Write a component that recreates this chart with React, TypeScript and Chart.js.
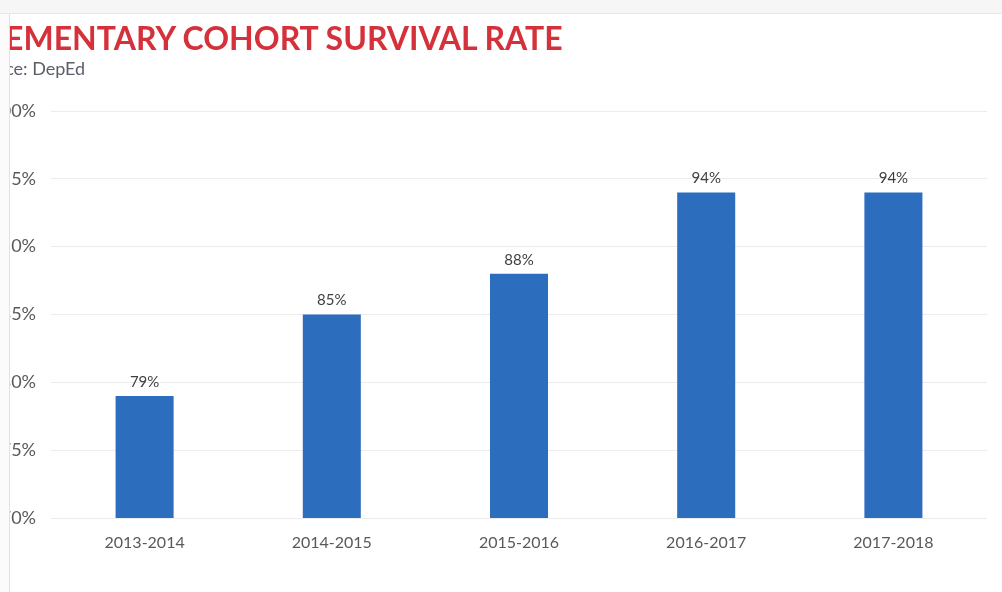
import React, { useEffect, useRef } from "react";
import { Chart, registerables } from "chart.js";

Chart.register(...registerables);

const categories = ["2013-2014", "2014-2015", "2015-2016", "2016-2017", "2017-2018"];
const survivalRates = [79, 85, 88, 94, 94];
const yTickValues = [70, 75, 80, 85, 90, 95, 100];
const titleText = "ELEMENTARY COHORT SURVIVAL RATE";
const sourceText = "Source: DepEd";

export default function App() {
  const canvasRef = useRef<HTMLCanvasElement | null>(null);

  useEffect(() => {
    document.body.style.margin = "0";
    const canvas = canvasRef.current;
    if (!canvas) return;

    const valueLabels = {
      id: "valueLabels",
      afterDatasetsDraw(chart: any) {
        const ctx = chart.ctx;
        const meta = chart.getDatasetMeta(0);
        ctx.save();
        ctx.font = "15px Lato";
        ctx.fillStyle = "#404040";
        ctx.textAlign = "center";
        ctx.textBaseline = "middle";
        meta.data.forEach((bar: any, i: number) => {
          ctx.fillText(survivalRates[i] + "%", bar.x, bar.y - 14);
        });
        ctx.restore();
      },
    };

    const chart = new Chart(canvas, {
      type: "bar",
      data: {
        labels: categories,
        datasets: [
          {
            data: survivalRates,
            backgroundColor: "#2D6DBE",
            barPercentage: 0.62,
            categoryPercentage: 0.5,
          },
        ],
      },
      options: {
        animation: false,
        responsive: false,
        layout: { padding: { left: 0, right: 15, top: 111, bottom: 34 } },
        plugins: {
          legend: { display: false },
          tooltip: { enabled: false },
          title: { display: false },
        },
        scales: {
          x: {
            grid: { display: false, drawTicks: false },
            border: { display: false },
            ticks: { color: "#595959", font: { family: "Lato", size: 16 }, padding: 15 },
            afterFit(scale: any) {
              scale.height = 40;
            },
          },
          y: {
            min: 70,
            max: 100,
            afterBuildTicks(scale: any) {
              scale.ticks = yTickValues.map((v) => ({ value: v }));
            },
            ticks: {
              color: "#595959",
              font: { family: "Lato", size: 18 },
              padding: 15,
              callback: (v: any) => v + "%",
            },
            grid: { color: "#ececec", drawTicks: false },
            border: { display: false },
            afterFit(scale: any) {
              scale.width = 51;
            },
          },
        },
      },
      plugins: [valueLabels],
    });

    return () => chart.destroy();
  }, []);

  return (
    <div style={{ position: "fixed", left: 0, top: 0, width: 1002, height: 592, overflow: "hidden", background: "#ffffff" }}>
      <canvas ref={canvasRef} width={1002} height={592} style={{ position: "absolute", left: 0, top: 0, display: "block" }} />
      <div
        style={{
          position: "absolute",
          left: -30,
          top: 18,
          whiteSpace: "nowrap",
          fontFamily: "Lato, sans-serif",
          fontWeight: 700,
          fontSize: 32,
          color: "#D5313B",
          lineHeight: "40px",
        }}
      >
        {titleText}
      </div>
      <div
        style={{
          position: "absolute",
          left: -31,
          top: 57,
          whiteSpace: "nowrap",
          fontFamily: "Lato, sans-serif",
          fontSize: 18,
          color: "#5a5f6a",
          lineHeight: "22px",
        }}
      >
        {sourceText}
      </div>
      <div style={{ position: "absolute", left: 0, top: 0, width: 1002, height: 13, background: "#f6f6f6", borderBottom: "1px solid #e8e8e8" }} />
      <div style={{ position: "absolute", left: 0, top: 14, width: 9, height: 578, background: "#fbfbfb", borderRight: "1px solid #e2e2e2" }} />
    </div>
  );
}
